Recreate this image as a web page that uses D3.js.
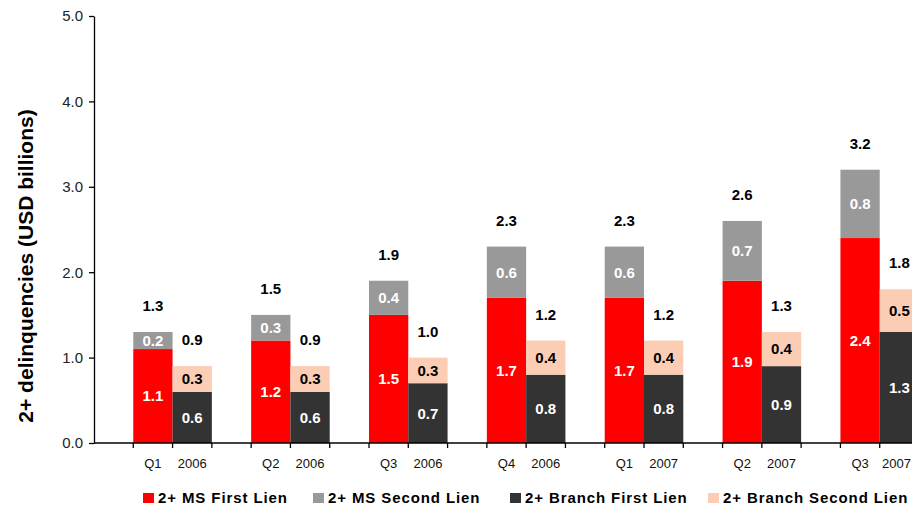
<!DOCTYPE html>
<html>
  <head>
    <meta charset="utf-8">
    <title>2+ delinquencies</title>
    <style>
      body { margin: 0; background: white; }
      svg { display: block; font-family: "Liberation Sans", Arial, sans-serif; }
      .axis path, .axis line { stroke: #000; stroke-width: 1.3; }
      .axis text { font-size: 15px; fill: #222; font-family: "Liberation Sans", Arial, sans-serif; }
    </style>
  </head>
  <body>
    <svg width="912" height="507"></svg>
    <script src="https://cdnjs.cloudflare.com/ajax/libs/d3/7.8.5/d3.min.js"></script>
    <script type="application/javascript">
      const quarters = ['Q1', 'Q2', 'Q3', 'Q4', 'Q1', 'Q2', 'Q3'];
      const years = ['2006', '2006', '2006', '2006', '2007', '2007', '2007'];

      const msFirst = [1.1, 1.2, 1.5, 1.7, 1.7, 1.9, 2.4];
      const msSecond = [0.2, 0.3, 0.4, 0.6, 0.6, 0.7, 0.8];
      const branchFirst = [0.6, 0.6, 0.7, 0.8, 0.8, 0.9, 1.3];
      const branchSecond = [0.3, 0.3, 0.3, 0.4, 0.4, 0.4, 0.5];

      const yTicks = [0, 1, 2, 3, 4, 5];

      const legendNames = ['2+ MS First Lien', '2+ MS Second Lien', '2+ Branch First Lien', '2+ Branch Second Lien'];
      const colors = ['#ff0000', '#999999', '#333333', '#fccdb5'];
      const labelColors = ['#fff', '#fff', '#fff', '#000'];

      const svg = d3.select('svg');
      const width = +svg.attr('width');

      const x0 = d3.scaleBand()
        .domain(d3.range(quarters.length))
        .range([94, 919]);

      const x1 = d3.scaleBand()
        .domain(['gap', 'ms', 'branch'])
        .range([0, x0.bandwidth()]);

      const y = d3.scaleLinear()
        .domain([0, 5])
        .range([443, 16]);

      // one stacked bar per (period, side)
      const bars = [];
      quarters.forEach((q, i) => {
        bars.push({ i, side: 'ms', parts: [
          { v: msFirst[i], s: 0 }, { v: msSecond[i], s: 1 }
        ]});
        bars.push({ i, side: 'branch', parts: [
          { v: branchFirst[i], s: 2 }, { v: branchSecond[i], s: 3 }
        ]});
      });
      bars.forEach(b => {
        let base = 0;
        b.parts.forEach(p => { p.y0 = base; base += p.v; p.y1 = base; });
        b.total = base;
      });

      const fmt = d3.format('.1f');

      const g = svg.selectAll('g.bar')
        .data(bars)
        .enter()
          .append('g')
          .attr('class', 'bar')
          .attr('transform', d => `translate(${x0(d.i) + x1(d.side)},0)`);

      g.selectAll('rect')
        .data(d => d.parts)
        .enter()
          .append('rect')
          .attr('x', 0)
          .attr('width', x1.bandwidth())
          .attr('y', d => y(d.y1))
          .attr('height', d => y(d.y0) - y(d.y1))
          .attr('fill', d => colors[d.s]);

      g.selectAll('text.seg')
        .data(d => d.parts)
        .enter()
          .append('text')
          .attr('class', 'seg')
          .attr('x', x1.bandwidth() / 2)
          .attr('y', d => (y(d.y0) + y(d.y1)) / 2)
          .attr('dy', '0.36em')
          .attr('text-anchor', 'middle')
          .style('font-size', '15px')
          .style('font-weight', 'bold')
          .attr('fill', d => labelColors[d.s])
          .text(d => fmt(d.v));

      g.append('text')
        .attr('x', x1.bandwidth() / 2)
        .attr('y', d => y(d.total) - 21)
        .attr('text-anchor', 'middle')
        .style('font-size', '15px')
        .style('font-weight', 'bold')
        .attr('fill', '#000')
        .text(d => fmt(d.total));

      // y axis
      svg.append('g')
        .attr('class', 'axis')
        .attr('transform', 'translate(94,0)')
        .call(d3.axisLeft(y).tickValues(yTicks).tickFormat(fmt).tickSize(5).tickSizeOuter(0).tickPadding(6));

      // x axis with ticks at every slot edge
      const edges = [];
      quarters.forEach((q, i) => {
        ['ms', 'branch'].forEach(s => edges.push(x0(i) + x1(s)));
        edges.push(x0(i) + x0.bandwidth());
      });

      const xa = svg.append('g').attr('class', 'axis');
      xa.append('line')
        .attr('x1', 94).attr('x2', 919)
        .attr('y1', y(0)).attr('y2', y(0));
      xa.selectAll('line.tick')
        .data(edges)
        .enter()
          .append('line')
          .attr('class', 'tick')
          .attr('x1', d => d).attr('x2', d => d)
          .attr('y1', y(0)).attr('y2', y(0) + 5);

      const lab = svg.append('g')
        .style('font-size', '13px')
        .attr('fill', '#111');
      lab.selectAll('text.q')
        .data(quarters)
        .enter()
          .append('text')
          .attr('x', (d, i) => x0(i) + x1('ms') + x1.bandwidth() / 2)
          .attr('y', 468)
          .attr('text-anchor', 'middle')
          .text(d => d);
      lab.selectAll('text.yr')
        .data(years)
        .enter()
          .append('text')
          .attr('x', (d, i) => x0(i) + x1('branch') + x1.bandwidth() / 2)
          .attr('y', 468)
          .attr('text-anchor', 'middle')
          .text(d => d)
          .each(function() {
            // keep the last label inside the page
            const w = this.getComputedTextLength();
            const cx = +this.getAttribute('x');
            if (cx + w / 2 > width - 1) this.setAttribute('x', width - 1 - w / 2);
          });

      // y title
      svg.append('text')
        .attr('transform', 'translate(33,266) rotate(-90)')
        .attr('text-anchor', 'middle')
        .style('font-size', '21px')
        .style('font-weight', 'bold')
        .text('2+ delinquencies (USD billions)');

      // legend
      const legendX = [143, 313, 510, 708];
      const leg = svg.append('g')
        .selectAll('g')
        .data(legendNames)
        .enter()
          .append('g')
          .attr('transform', (d, i) => `translate(${legendX[i]},493)`);
      leg.append('rect')
        .attr('width', 11)
        .attr('height', 10)
        .attr('fill', (d, i) => colors[i]);
      leg.append('text')
        .attr('x', 15)
        .attr('y', 10)
        .style('font-size', '15px')
        .style('font-weight', 'bold')
        .style('letter-spacing', '0.9px')
        .text(d => d);
    </script>
  </body>
</html>
